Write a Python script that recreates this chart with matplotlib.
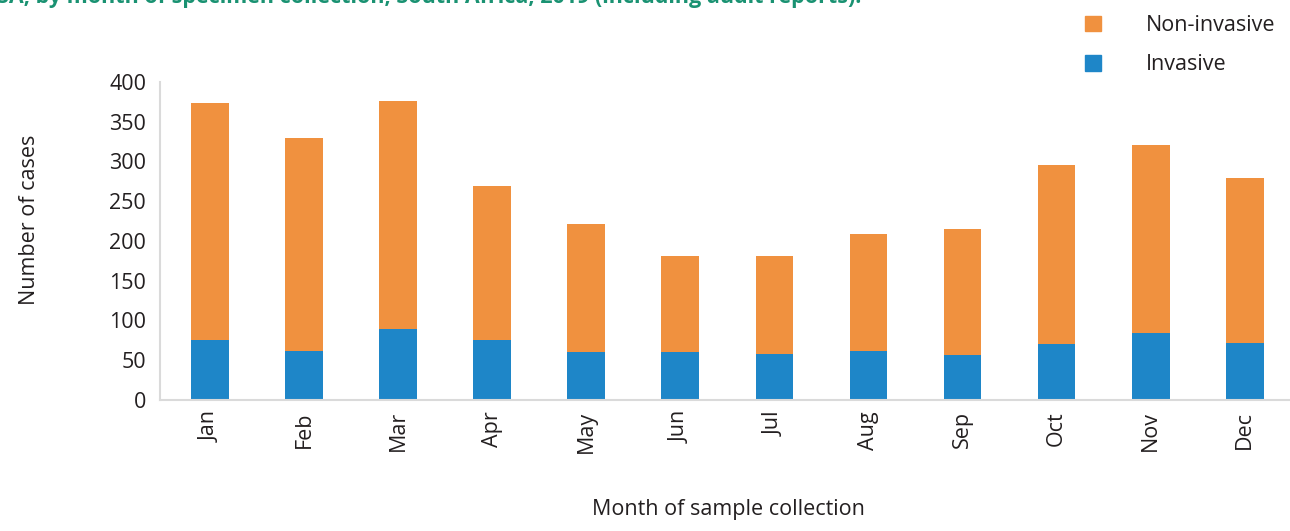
import matplotlib.pyplot as plt
from matplotlib.patches import Patch

plt.rcParams['font.family'] = ['Open Sans', 'DejaVu Sans']

months = ['Jan', 'Feb', 'Mar', 'Apr', 'May', 'Jun',
          'Jul', 'Aug', 'Sep', 'Oct', 'Nov', 'Dec']
invasive = [75, 62, 89, 75, 60, 60, 58, 62, 56, 70, 84, 72]
non_invasive = [299, 268, 287, 194, 161, 121, 123, 147, 159, 225, 237, 207]

orange = '#f0913f'
blue = '#1e86c8'
grey = '#dadada'
text_col = '#231f20'

fig = plt.figure(figsize=(12.9, 5.31), dpi=100)
ax = fig.add_axes([0.124, 0.2467, 0.876, 0.599])

x = range(len(months))
ax.bar(x, invasive, width=0.4, color=blue, edgecolor='none')
ax.bar(x, non_invasive, width=0.4, bottom=invasive, color=orange, edgecolor='none')

ax.set_ylim(0, 400)
ax.set_xlim(-0.53, 11.48)
ax.set_yticks(range(0, 401, 50))
ax.set_xticks(list(x))
ax.set_xticklabels(months, rotation=90)
ax.tick_params(axis='both', length=0, labelsize=15.5, colors=text_col)
ax.tick_params(axis='y', pad=10)
ax.tick_params(axis='x', pad=8)

for side in ['top', 'right']:
    ax.spines[side].set_visible(False)
for side in ['left', 'bottom']:
    ax.spines[side].set_color(grey)
    ax.spines[side].set_linewidth(1.5)

fig.text(30 / 1290, 1 - 220 / 531, 'Number of cases', rotation=90,
         ha='center', va='center', fontsize=15.5, color=text_col)
fig.text(728 / 1290, 1 - 510 / 531, 'Month of sample collection',
         ha='center', va='center', fontsize=15.5, color=text_col)

# title is cut off at the top of the image in the reference too
fig.text(-0.002, 1 - 3 / 531,
         'SA, by month of specimen collection, South Africa, 2019 (including audit reports).',
         ha='left', va='baseline', fontsize=15.5, fontweight='bold', color='#1a9272')

handles = [Patch(color=orange, label='Non-invasive'),
           Patch(color=blue, label='Invasive')]
fig.legend(handles=handles, loc='upper left',
           bbox_to_anchor=(1085 / 1290, 1 - 15 / 531),
           frameon=False, fontsize=15.5, handlelength=0.75, handleheight=0.75,
           handletextpad=2.1, labelspacing=0.85, borderpad=0, borderaxespad=0,
           labelcolor=text_col)

fig.savefig('out.png', dpi=100)
